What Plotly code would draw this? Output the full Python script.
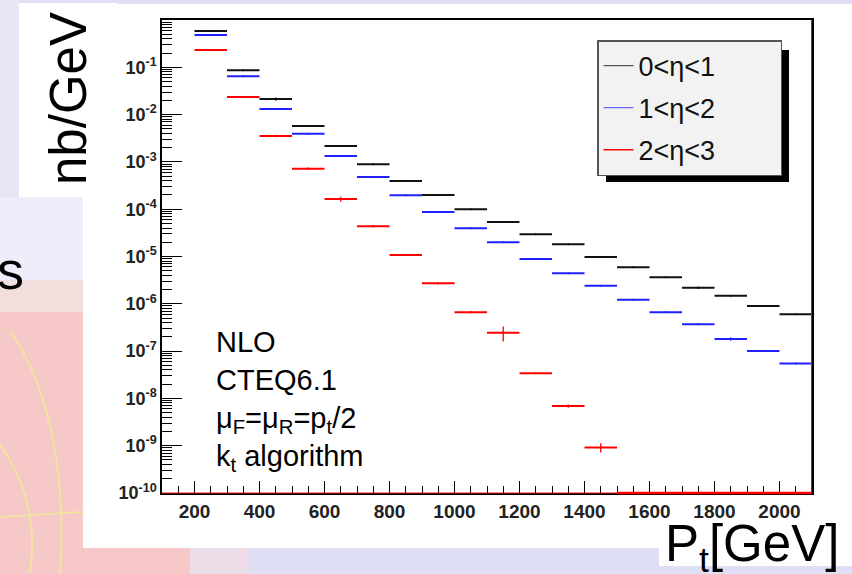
import plotly.graph_objects as go

# ---------------- data ----------------
bin_low = [200, 300, 400, 500, 600, 700, 800, 900, 1000, 1100,
           1200, 1300, 1400, 1500, 1600, 1700, 1800, 1900, 2000]
bin_width = 100

eta01 = [0.585, 0.0865, 0.0214, 0.00574, 0.00217, 8.9e-4, 3.94e-4, 2.0e-4, 9.95e-5, 5.36e-5,
         2.94e-5, 1.81e-5, 9.75e-6, 5.92e-6, 3.63e-6, 2.19e-6, 1.48e-6, 8.97e-7, 6.0e-7]
eta12 = [0.482, 0.0646, 0.0131, 0.00394, 0.00133, 4.8e-4, 1.97e-4, 8.7e-5, 3.95e-5, 2.0e-5,
         8.85e-6, 4.42e-6, 2.42e-6, 1.22e-6, 6.6e-7, 3.69e-7, 1.8e-7, 1.0e-7, 5.5e-8]
eta23 = [0.232, 0.0236, 0.00353, 7.18e-4, 1.64e-4, 4.35e-5, 1.08e-5, 2.71e-6, 6.6e-7, 2.45e-7,
         3.4e-8, 6.9e-9, 9.2e-10, None, None, None, None, None, None]

# relative statistical errors
err01 = [0.02, 0.02, 0.08, 0.02, 0.02, 0.02, 0.02, 0.02, 0.02, 0.02,
         0.02, 0.02, 0.02, 0.02, 0.02, 0.05, 0.02, 0.02, 0.02]
err12 = [0.02, 0.02, 0.02, 0.02, 0.02, 0.02, 0.02, 0.02, 0.02, 0.03,
         0.02, 0.02, 0.02, 0.02, 0.02, 0.02, 0.08, 0.04, 0.03]
err23 = [0.02, 0.03, 0.06, 0.06, 0.12, 0.05, 0.05, 0.04, 0.04, 0.35,
         0.04, 0.08, 0.22, None, None, None, None, None, None]

series_names = ["0<η<1", "1<η<2", "2<η<3"]
series_colors = ["#111111", "#2020ff", "#ff0000"]
legend_colors = ["#555555", "#6a6aff", "#ff0000"]

y_exponents = [-1, -2, -3, -4, -5, -6, -7, -8, -9, -10]
x_ticks = [200, 400, 600, 800, 1000, 1200, 1400, 1600, 1800, 2000]

info_lines = ["NLO", "CTEQ6.1", "μ<sub>F</sub>=μ<sub>R</sub>=p<sub>t</sub>/2", "k<sub>t</sub> algorithm"]

# ---------------- geometry ----------------
W, H = 852, 574
L, R, T, B = 162, 40, 20, 81
PW, PH = W - L - R, H - T - B


def px(xp):
    return (xp - L) / PW


def py(yp):
    return (T + PH - yp) / PH


FONT = "Liberation Sans, Arial, sans-serif"

centers = [b + bin_width / 2 for b in bin_low]

fig = go.Figure()
for vals, errs, name, col in zip([eta01, eta12, eta23], [err01, err12, err23],
                                 series_names, series_colors):
    xs = [c for c, v in zip(centers, vals) if v is not None]
    ys = [v for v in vals if v is not None]
    es = [v * e for v, e in zip(vals, errs) if v is not None]
    fig.add_trace(go.Scatter(
        x=xs, y=ys, mode="markers",
        marker=dict(size=2, color=col),
        error_x=dict(type="constant", value=bin_width / 2, thickness=2, width=0, color=col),
        error_y=dict(type="data", array=es, thickness=1.3, width=0, color=col),
        showlegend=False, hoverinfo="x+y", name=name))

for i, (name, col) in enumerate(zip(series_names, legend_colors)):
    fig.add_trace(go.Scatter(x=[None], y=[None], mode="lines", name=name + "\u00a0" * 8,
                             line=dict(color=col, width=1.3), legendgroup="g%d" % i))

minor_vals = [m * 10.0 ** e for e in range(-10, 1) for m in range(2, 10)]

fig.update_xaxes(
    range=[100, 2100], showgrid=False, zeroline=False,
    showline=True, linecolor="black", linewidth=1.5, mirror=True,
    ticks="inside", ticklen=12, tickcolor="black", tickwidth=1.2,
    tickmode="array", tickvals=x_ticks, ticktext=[str(v) for v in x_ticks],
    tickfont=dict(family=FONT, size=19, color="#222222", weight="bold"),
    minor=dict(ticks="inside", ticklen=7, tickcolor="black", dtick=50, tick0=0, showgrid=False),
)
fig.update_yaxes(
    type="log", range=[-10, 0], showgrid=False, zeroline=False,
    showline=True, linecolor="black", linewidth=1.5, mirror=True,
    ticks="inside", ticklen=20, tickcolor="black", tickwidth=1.2,
    tickmode="array", tickvals=[10.0 ** e for e in y_exponents],
    ticktext=["10<sup>%d</sup>" % e for e in y_exponents],
    tickfont=dict(family=FONT, size=18, color="#222222", weight="bold"),
    minor=dict(ticks="inside", ticklen=10, tickcolor="black", tickmode="array",
               tickvals=minor_vals, showgrid=False),
)

shapes = []
# slide background decorations
shapes.append(dict(type="rect", xref="paper", yref="paper", x0=px(0), x1=px(83), y0=py(197), y1=py(300),
                   fillcolor="#eeeefa", line_width=0, layer="below"))
shapes.append(dict(type="rect", xref="paper", yref="paper", x0=px(0), x1=px(19), y0=py(0), y1=py(197),
                   fillcolor="#e6e6f7", line_width=0, layer="below"))
shapes.append(dict(type="rect", xref="paper", yref="paper", x0=px(0), x1=px(83), y0=py(280), y1=py(315),
                   fillcolor="#f3dede", line_width=0, layer="below"))
shapes.append(dict(type="rect", xref="paper", yref="paper", x0=px(0), x1=px(83), y0=py(312), y1=py(574),
                   fillcolor="#f6c8c8", line_width=0, layer="below"))
shapes.append(dict(type="rect", xref="paper", yref="paper", x0=px(83), x1=px(190), y0=py(548), y1=py(574),
                   fillcolor="#f6c8c8", line_width=0, layer="below"))
shapes.append(dict(type="rect", xref="paper", yref="paper", x0=px(190), x1=px(250), y0=py(548), y1=py(574),
                   fillcolor="#ecdde9", line_width=0, layer="below"))
for path in ["M {} {} Q {} {} {} {}".format(px(0), py(445), px(40), py(500), px(30), py(574)),
             "M {} {} L {} {}".format(px(0), py(517), px(83), py(512)),
             "M {} {} Q {} {} {} {}".format(px(10), py(330), px(70), py(420), px(60), py(574))]:
    shapes.append(dict(type="path", xref="paper", yref="paper", path=path,
                       line=dict(color="#f2e4a0", width=2), layer="below"))
# white canvas boxes
shapes.append(dict(type="rect", xref="paper", yref="paper", x0=px(83), x1=px(852), y0=py(548), y1=py(4),
                   fillcolor="white", line_width=0, layer="below"))
shapes.append(dict(type="rect", xref="paper", yref="paper", x0=px(19), x1=px(117), y0=py(197), y1=py(3),
                   fillcolor="white", line_width=0, layer="below"))
shapes.append(dict(type="rect", xref="paper", yref="paper", x0=px(659), x1=px(852), y0=py(566), y1=py(518),
                   fillcolor="white", line_width=0, layer="below"))
# red histogram edge artifacts
shapes.append(dict(type="line", xref="x", yref="paper", x0=100, x1=2100, y0=0, y1=0,
                   line=dict(color="rgba(255,0,0,0.6)", width=1.5), layer="above"))
shapes.append(dict(type="line", xref="x", yref="paper", x0=1500, x1=2100, y0=0, y1=0,
                   line=dict(color="#ff0000", width=2.5), layer="above"))
shapes.append(dict(type="line", xref="x", yref="paper", x0=2100, x1=2100, y0=0, y1=1,
                   line=dict(color="#ff0000", width=2), layer="above"))
# legend shadow
shapes.append(dict(type="rect", xref="paper", yref="paper", x0=px(606), x1=px(789), y0=py(182), y1=py(50),
                   fillcolor="black", line_width=0, layer="above"))

annotations = []
info_y = [342, 380, 420, 458]
for txt, yy in zip(info_lines, info_y):
    annotations.append(dict(text=txt, xref="paper", yref="paper", x=px(214), y=py(yy),
                            xanchor="left", yanchor="middle", showarrow=False,
                            font=dict(family=FONT, size=29, color="black")))
annotations.append(dict(text="nb/GeV", xref="paper", yref="paper", x=px(68), y=py(99),
                        textangle=-90, xanchor="center", yanchor="middle", showarrow=False,
                        font=dict(family=FONT, size=51, color="black")))
annotations.append(dict(text="P<sub>t</sub>[GeV]", xref="paper", yref="paper", x=px(663), y=py(547),
                        xanchor="left", yanchor="middle", showarrow=False,
                        font=dict(family=FONT, size=51, color="black")))
annotations.append(dict(text="s", xref="paper", yref="paper", x=px(26), y=py(270),
                        xanchor="right", yanchor="middle", showarrow=False,
                        font=dict(family=FONT, size=54, color="black")))

fig.update_layout(
    width=W, height=H, margin=dict(l=L, r=R, t=T, b=B),
    paper_bgcolor="#dedef5", plot_bgcolor="white",
    shapes=shapes, annotations=annotations,
    showlegend=True,
    legend=dict(x=px(597), y=py(40), xanchor="left", yanchor="top",
                bgcolor="#f2f2f2", bordercolor="#555555", borderwidth=1.5,
                font=dict(family=FONT, size=27, color="#111111"),
                tracegroupgap=4, itemwidth=30),
)

fig.write_html("out.html")
